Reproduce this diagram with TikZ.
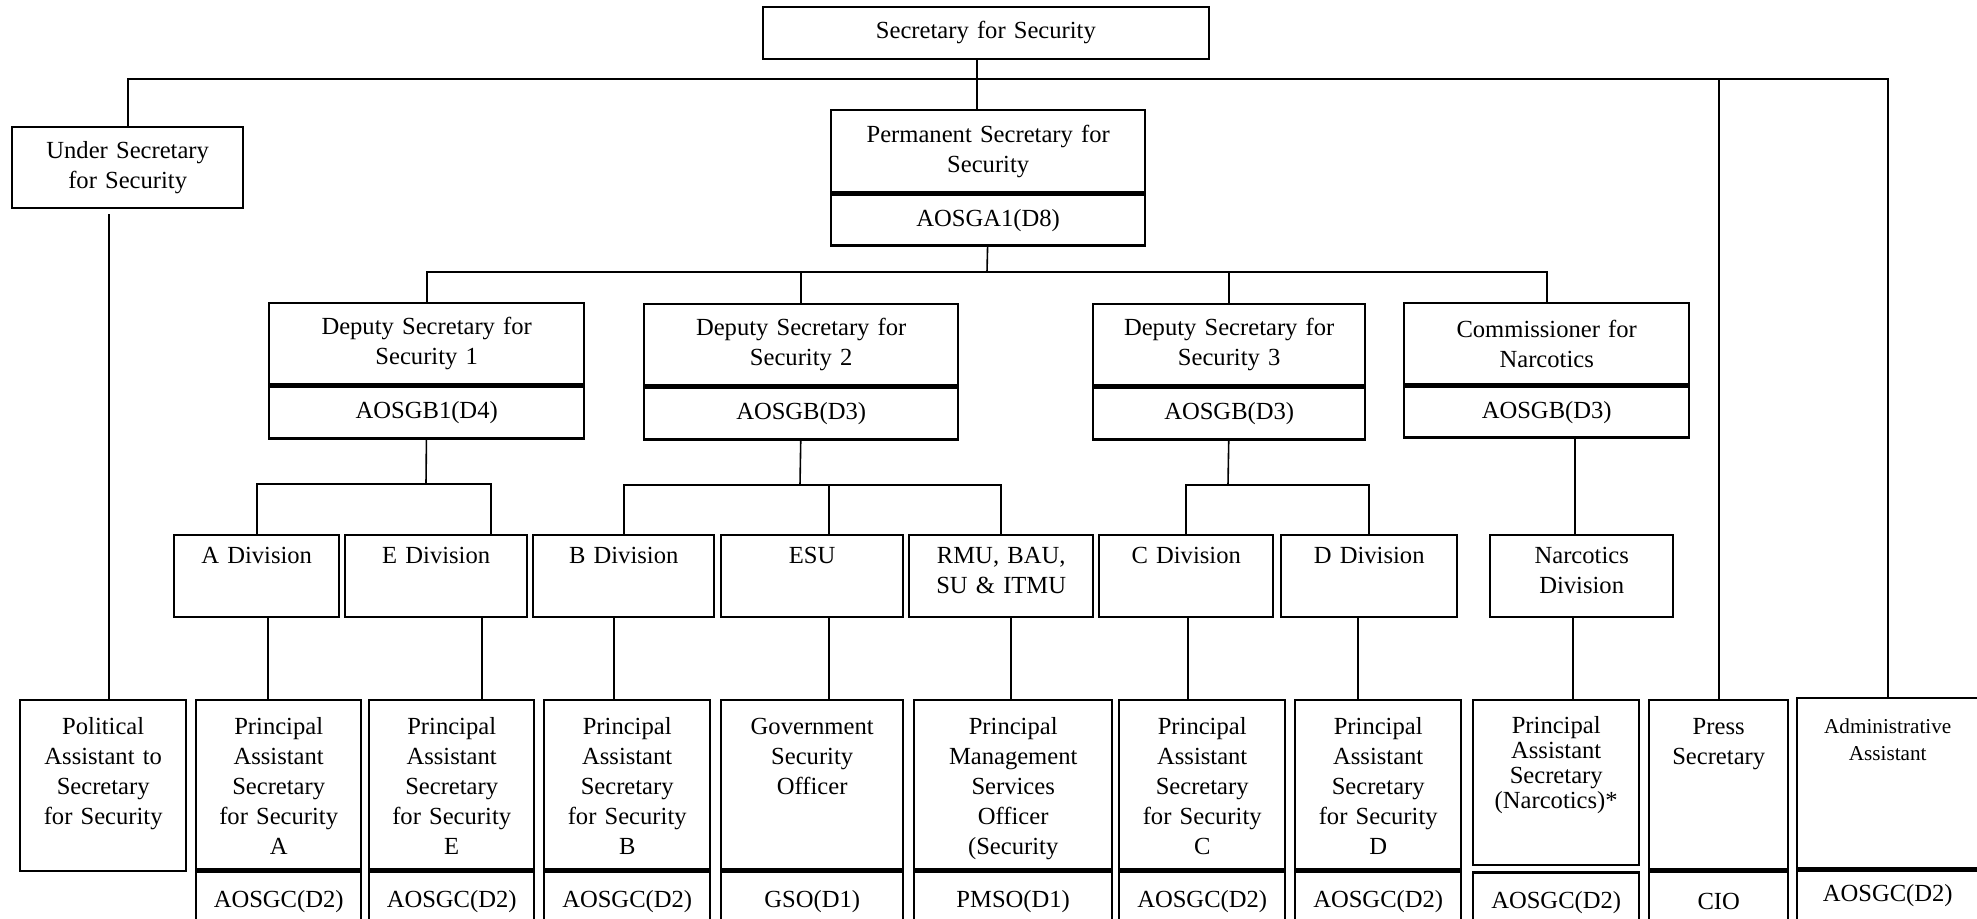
\documentclass[tikz,border=0pt]{standalone}
\usepackage{fontspec}
\setmainfont{Liberation Serif}
\usetikzlibrary{positioning}
\newcommand{\postfont}{\fontsize{12.3}{15}\selectfont}
\newcommand{\smallpost}{\fontsize{10.6}{13.5}\selectfont}
\tikzset{
  box/.style={draw, line width=1.2pt, align=center, inner sep=0pt, anchor=north west, font=\postfont},
  wd/.style={text width=#1*0.5pt},
  ht/.style={minimum height=#1*0.5pt},
  topset/.style 2 args={text height=#1*0.5pt, text depth=#2*0.5pt},
  unit/.style={box, topset={28}{54}},
  job/.style={box, topset={34}{135}},
  grade/.style={box, ht=60},
  link/.style={line width=0.8pt},
}
\begin{document}
\begin{tikzpicture}[x=0.5pt, y=-0.5pt]
    \useasboundingbox (0,0) rectangle (1977,918);
    % top
    \node[box, wd=446, ht=52, line width=0.9pt] (sec) at (762,6) {Secretary for Security};
    \node[box, wd=231, ht=81] (under) at (11,126) {Under Secretary\\for Security};
    \node[box, wd=314, ht=82] (ps) at (830,109) {Permanent Secretary for\\Security};
    \node[box, wd=314, ht=51, below=0pt of ps] (psg) {AOSGA1(D8)};
    % deputies
    \node[box, wd=315, ht=81] (ds1) at (268,302) {Deputy Secretary for\\Security 1};
    \node[box, wd=315, ht=52, below=0pt of ds1] (ds1g) {AOSGB1(D4)};
    \node[box, wd=314, ht=81] (ds2) at (643,303) {Deputy Secretary for\\Security 2};
    \node[box, wd=314, ht=52, below=0pt of ds2] (ds2g) {AOSGB(D3)};
    \node[box, wd=272, ht=81] (ds3) at (1092,303) {Deputy Secretary for\\Security 3};
    \node[box, wd=272, ht=52, below=0pt of ds3] (ds3g) {AOSGB(D3)};
    \node[box, wd=285, ht=81] (cn) at (1403,302) {Commissioner for\\Narcotics};
    \node[box, wd=285, ht=51, below=0pt of cn] (cng) {AOSGB(D3)};
    % divisions
    \node[unit, wd=165] (adiv) at (173,534) {A Division};
    \node[unit, wd=182] (ediv) at (344,534) {E Division};
    \node[unit, wd=181] (bdiv) at (532,534) {B Division};
    \node[unit, wd=182] (esu) at (720,534) {ESU};
    \node[unit, wd=184] (rmu) at (908,534) {RMU, BAU,\\SU \& ITMU};
    \node[unit, wd=174] (cdiv) at (1098,534) {C Division};
    \node[unit, wd=176] (ddiv) at (1280,534) {D Division};
    \node[unit, wd=183] (ndiv) at (1489,534) {Narcotics\\Division};
    % posts
    \node[job, wd=166, topset={34}{137}] (pol) at (19,699) {Political\\Assistant to\\Secretary\\for Security};
    \node[job, wd=165] (pasa) at (195,699) {Principal\\Assistant\\Secretary\\for Security\\A};
    \node[grade, wd=165, below=0pt of pasa] (pasag) {AOSGC(D2)};
    \node[job, wd=165] (pase) at (368,699) {Principal\\Assistant\\Secretary\\for Security\\E};
    \node[grade, wd=165, below=0pt of pase] (paseg) {AOSGC(D2)};
    \node[job, wd=166] (pasb) at (543,699) {Principal\\Assistant\\Secretary\\for Security\\B};
    \node[grade, wd=166, below=0pt of pasb] (pasbg) {AOSGC(D2)};
    \node[job, wd=182] (gso) at (720,699) {Government\\Security\\Officer};
    \node[grade, wd=182, below=0pt of gso] (gsog) {GSO(D1)};
    \node[job, wd=198] (pmso) at (913,699) {Principal\\Management\\Services\\Officer\\(Security};
    \node[grade, wd=198, below=0pt of pmso] (pmsog) {PMSO(D1)};
    \node[job, wd=166] (pasc) at (1118,699) {Principal\\Assistant\\Secretary\\for Security\\C};
    \node[grade, wd=166, below=0pt of pasc] (pascg) {AOSGC(D2)};
    \node[job, wd=166] (pasd) at (1294,699) {Principal\\Assistant\\Secretary\\for Security\\D};
    \node[grade, wd=166, below=0pt of pasd] (pasdg) {AOSGC(D2)};
    \node[job, wd=166, topset={33}{132}, font=\fontsize{12.3}{12.5}\selectfont] (pasn) at (1472,699) {Principal\\Assistant\\Secretary\\(Narcotics)*};
    \node[grade, wd=166, below=2.5pt of pasn] (pasng) {AOSGC(D2)};
    \node[job, wd=139] (press) at (1648,699) {Press\\Secretary};
    \node[grade, wd=139, below=0pt of press] (pressg) {CIO};
    \node[job, wd=181, topset={35}{135}, font=\smallpost] (admin) at (1796,697) {Administrative\\Assistant};
    \node[grade, wd=181, ht=50, below=0pt of admin] (adming) {AOSGC(D2)};
    % lines
    \coordinate (tj) at (976,79);
    \draw[link] ([xshift=-4.5pt]sec.south) -- ([xshift=-4.5pt]sec.south |- ps.north);
    \draw[link] (tj) -| (under);
    \draw[link] (tj) -| (press);
    \draw[link] (tj) -| (admin);
    \draw[link, shorten >=2.5pt] ([xshift=3pt]pol.north) -- ([xshift=3pt]pol.north |- under.south);
    \coordinate (pj) at (987,272);
    \draw[link] (psg) -- (pj);
    \foreach \d in {ds1, ds2, ds3, cn}
      \draw[link] (pj) -| (\d);
    \coordinate (j1) at (426,484);
    \draw[link] (ds1g) -- (j1);
    \draw[link] (j1) -| (adiv);
    \draw[link] (j1) -| ([xshift=27.5pt]ediv.north);
    \coordinate (j2) at (800,485);
    \draw[link] (ds2g) -- (j2);
    \draw[link] (j2) -| (bdiv);
    \draw[link] (j2) -| ([xshift=8.5pt]esu.north);
    \draw[link] (j2) -| (rmu);
    \coordinate (j3) at (1228,485);
    \draw[link] (ds3g) -- (j3);
    \draw[link] (j3) -| (cdiv);
    \draw[link] (j3) -| (ddiv);
    \draw[link] ([xshift=-3.25pt]ndiv.north) -- ([xshift=-3.25pt]ndiv.north |- cng.south);
    \foreach \u/\p/\s in {adiv/pasa/5.75pt, ediv/pase/23pt, bdiv/pasb/-4.75pt, esu/gso/8.5pt,
        rmu/pmso/5pt, cdiv/pasc/1pt, ddiv/pasd/-5.5pt, ndiv/pasn/-4.25pt}
      \draw[link] ([xshift=\s]\u.south) -- ([xshift=\s]\u.south |- \p.north);
  \end{tikzpicture}
\end{document}
